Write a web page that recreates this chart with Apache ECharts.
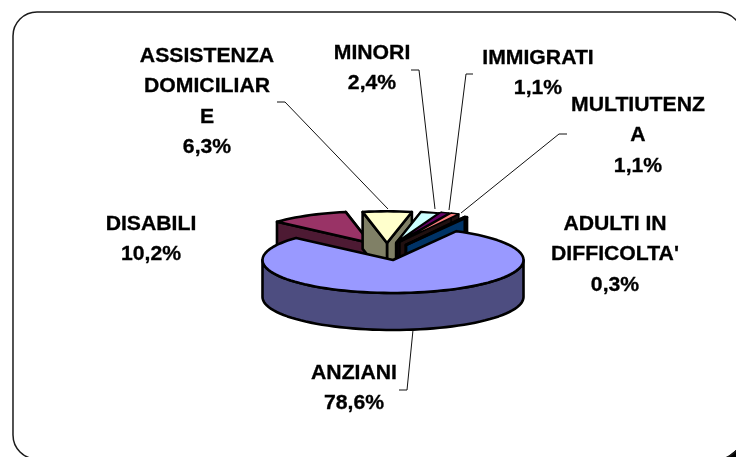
<!DOCTYPE html>
<html>
<head>
<meta charset="utf-8">
<style>html,body{margin:0;padding:0;background:#fff}#c{width:736px;height:457px}</style>
<script src="https://cdn.jsdelivr.net/npm/echarts@6/dist/echarts.min.js"></script>
</head>
<body>
<div id="c"></div>
<script>
const categories = ['ANZIANI','DISABILI','ASSISTENZA DOMICILIARE','MINORI','IMMIGRATI','MULTIUTENZA',"ADULTI IN DIFFICOLTA'"];
const values = [78.6,10.2,6.3,2.4,1.1,1.1,0.3];
const labelLines = [['ANZIANI'],['DISABILI'],['ASSISTENZA','DOMICILIAR','E'],['MINORI'],['IMMIGRATI'],['MULTIUTENZ','A'],['ADULTI IN',"DIFFICOLTA'"]];
const topColors = ['#9999FF','#993366','#FFFFCC','#CCFFFF','#660066','#FF8080','#0066CC'];
const wallColors = ['#4D4D80','#4D1A33','#808066','#1a2020','#1a001a','#201010','#003366'];

// 3D projection layout
const RX = 130.5, RY = 33, DEPTH = 37, START = 60.9;
const apex = [[393,260],[370,243],[387,243],[396,243],[398,242],[400,242],[406,245]];
const scale = [1,0.96,0.96,0.96,0.96,0.96,0.96];
const lineWidths = [2.6,2.6,2.6,2.2,1.5,1.5,2.8];
const labelPos = [[354,373],[151,224],[207,56],[372,53],[538,58],[638,105],[615,224]];
const leaders = [
  [[399,390],[407,390],[413,330]],
  null,
  [[277,102],[285,102],[388,209]],
  [[411,70],[419,70],[435,209]],
  [[473,74],[466,74],[449,210]],
  [[567,134],[559,134],[461,213]],
  null
];
const LINE_H = 30.5;
const drawOrder = [1,2,3,4,5,6,0];

const total = values.reduce((a,b)=>a+b,0);
const spans = values.map(v=>v/total*360);
const startAngles = [];
spans.reduce((acc,s,i)=>{startAngles[i]=acc;return acc-s;},START);

function pt(i,t,dy){
  const r=t*Math.PI/180;
  return [apex[i][0]+RX*scale[i]*Math.cos(r), apex[i][1]-RY*scale[i]*Math.sin(r)+(dy||0)];
}
function arc(i,a,b,dy){
  const n=Math.max(2,Math.ceil(Math.abs(b-a)/3)), out=[];
  for(let k=0;k<=n;k++) out.push(pt(i,a+(b-a)*k/n,dy));
  return out;
}

function renderSlice(params,api){
  const i=api.value(0);
  const a0=startAngles[i], a1=a0-spans[i];
  const kids=[];
  const poly=(pts,fill)=>kids.push({type:'polygon',shape:{points:pts},style:{fill:fill,stroke:'#000',lineWidth:lineWidths[i],lineJoin:'round'}});
  const A=apex[i];
  if(i===0){
    poly(arc(i,180,360,0).concat(arc(i,360,180,DEPTH)),wallColors[i]);
  } else {
    const c0=pt(i,a0,0), c1=pt(i,a1,0);
    poly([A,c1,[c1[0],c1[1]+DEPTH],[A[0],A[1]+DEPTH]],wallColors[i]);
    poly([A,c0,[c0[0],c0[1]+DEPTH],[A[0],A[1]+DEPTH]],wallColors[i]);
  }
  poly([A].concat(arc(i,a0,a1,0)),topColors[i]);
  return {type:'group',children:kids};
}
function renderLabel(params,api){
  const i=api.value(0);
  const pct=values[i].toFixed(1).replace('.',',')+'%';
  const lines=labelLines[i].concat([pct]);
  const kids=lines.map((t,k)=>({type:'text',x:labelPos[i][0],y:labelPos[i][1]+k*LINE_H,scaleX:1.06,style:{
    text:t,x:0,y:0,align:'center',verticalAlign:'middle',
    font:'bold 20px "Liberation Sans", Arial, sans-serif',fill:'#000',stroke:'#000',lineWidth:0.3}}));
  if(leaders[i]) kids.push({type:'polyline',shape:{points:leaders[i]},style:{stroke:'#111',lineWidth:1,fill:null}});
  return {type:'group',children:kids};
}

const chart=echarts.init(document.getElementById('c'),null,{renderer:'canvas'});
chart.setOption({
  animation:false,
  backgroundColor:'#fff',
  tooltip:{show:false},
  graphic:[
    {type:'polygon',shape:{points:[[727,457],[736,450],[736,457]]},style:{fill:'#000'},silent:true},
    {type:'rect',shape:{x:13,y:12,width:729,height:447,r:24},style:{fill:null,stroke:'#1a1a1a',lineWidth:1.5},silent:true}
  ],
  series:[
    {type:'custom',coordinateSystem:'none',renderItem:renderSlice,silent:true,z:2,
      data:drawOrder.map(i=>({name:categories[i],value:[i,values[i]]}))},
    {type:'custom',coordinateSystem:'none',renderItem:renderLabel,silent:true,z:3,
      data:categories.map((c,i)=>({name:c,value:[i,values[i]]}))}
  ]
});
</script>
</body>
</html>
